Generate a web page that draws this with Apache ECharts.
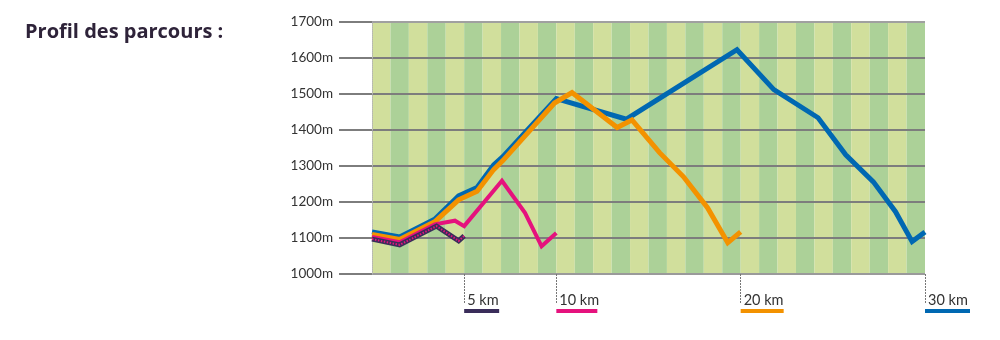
<!DOCTYPE html>
<html>
<head>
<meta charset="utf-8">
<script src="https://cdn.jsdelivr.net/npm/echarts@6/dist/echarts.min.js"></script>
<style>
  html, body { margin: 0; padding: 0; background: #ffffff; }
  #chart { width: 1000px; height: 340px; }
</style>
</head>
<body>
<div id="chart"></div>
<script>
// Elevation profiles: [distance in km, altitude in m]
const route30 = [[0,1117],[1.5,1103],[3.4,1152],[4.7,1217],[5.7,1240],[6.6,1303],[7.1,1326],[10.0,1487],[13.8,1430],[19.8,1623],[21.8,1512],[24.2,1434],[25.7,1331],[27.2,1256],[28.4,1173],[29.3,1090],[30,1117]];
const route20 = [[0,1110],[1.5,1096],[3.4,1145],[4.7,1206],[5.7,1230],[6.6,1290],[7.1,1315],[9.9,1475],[10.85,1504],[13.3,1407],[14.1,1428],[15.6,1337],[16.9,1270],[18.2,1184],[19.3,1087],[20,1117]];
const route10 = [[0,1103],[1.5,1088],[3.4,1138],[4.5,1148],[5.0,1133],[7.05,1259],[8.3,1170],[9.2,1077],[10,1114]];
const route5  = [[0,1097],[1.5,1081],[3.5,1133],[4.7,1092],[5,1106]];

// Route lengths marked under the profile
const routeEnds = [5, 10, 20, 30];
const distanceRange = { min: 0, max: 30, step: 1 };
const altitudeTicks = { min: 1000, max: 1700, step: 100 };

const colors = { r30: '#0068b2', r20: '#f39200', r10: '#e5127d', r5: '#3a2d5a' };

const chart = echarts.init(document.getElementById('chart'), null, { renderer: 'canvas' });

function routeLine(name, data, color, width, extra) {
  return Object.assign({
    name: name,
    type: 'line',
    xAxisIndex: 0,
    yAxisIndex: 0,
    data: data,
    showSymbol: false,
    symbol: 'none',
    clip: false,
    silent: true,
    z: 5,
    lineStyle: { color: color, width: width, join: 'miter', cap: 'butt' }
  }, extra || {});
}

chart.setOption({
  animation: false,
  title: {
    text: 'Profil des parcours :',
    left: 25,
    top: 22,
    padding: 0,
    textStyle: { fontFamily: 'Open Sans', fontWeight: 'bold', fontSize: 20, color: '#2e2339' }
  },
  grid: { left: 372, right: 75, top: 22, bottom: 66 },
  xAxis: [{
    // route-length markers below the profile
    type: 'value',
    min: distanceRange.min,
    max: distanceRange.max,
    interval: distanceRange.step,
    z: 3,
    axisLine: { show: false },
    splitLine: { show: false },
    splitArea: { show: false },
    axisTick: {
      show: true,
      customValues: routeEnds,
      inside: false,
      length: 29,
      lineStyle: { color: '#777777', width: 1, type: [2, 1] }
    },
    axisLabel: {
      show: true,
      customValues: routeEnds,
      margin: 17,
      align: 'left',
      formatter: function (v) { return '{t|' + v + ' km}\n{b' + v + '|}'; },
      rich: {
        t: { fontFamily: 'Lato', fontSize: 14.5, color: '#333333', lineHeight: 18, padding: [0, 0, 0, 3] },
        b5:  { backgroundColor: colors.r5,  width: 35, height: 4, lineHeight: 4 },
        b10: { backgroundColor: colors.r10, width: 41, height: 4, lineHeight: 4 },
        b20: { backgroundColor: colors.r20, width: 43, height: 4, lineHeight: 4 },
        b30: { backgroundColor: colors.r30, width: 45, height: 4, lineHeight: 4 }
      }
    }
  }, {
    // one-kilometre stripes behind the profile
    type: 'value',
    position: 'bottom',
    min: distanceRange.min,
    max: distanceRange.max,
    interval: distanceRange.step,
    z: 0,
    axisLine: { show: false },
    axisTick: { show: false },
    axisLabel: { show: false },
    splitLine: { show: false },
    splitArea: { show: true, areaStyle: { color: ['#d1df9c', '#acd198'] } }
  }],
  yAxis: [{
    type: 'value',
    min: altitudeTicks.min,
    max: altitudeTicks.max,
    interval: altitudeTicks.step,
    z: 2,
    axisLine: { show: false },
    axisTick: { show: true, inside: false, length: 33, lineStyle: { color: '#7d7d7d', width: 2 } },
    axisLabel: {
      margin: 39,
      fontFamily: 'Lato',
      fontSize: 13.5,
      color: '#333333',
      formatter: function (v) { return String(v) + 'm'; }
    },
    splitLine: {
      show: true,
      lineStyle: {
        color: ['#9a9a9a', '#7d7d7d', '#7d7d7d', '#7d7d7d', '#7d7d7d', '#7d7d7d', '#7d7d7d', '#a0a0a0'],
        width: 2
      }
    }
  }, {
    type: 'value',
    position: 'right',
    min: altitudeTicks.min,
    max: altitudeTicks.max,
    interval: altitudeTicks.step,
    z: 2,
    axisLine: { show: true, lineStyle: { color: '#b5b5b5', width: 1, type: 'dotted' } },
    axisTick: { show: false },
    axisLabel: { show: false },
    splitLine: { show: false }
  }],
  series: [
    routeLine('30 km', route30, colors.r30, 5),
    routeLine('20 km', route20, colors.r20, 5),
    routeLine('10 km', route10, colors.r10, 4),
    routeLine('5 km', route5, colors.r5, 5),
    routeLine('5 km', route5, colors.r10, 2, {
      lineStyle: { color: colors.r10, width: 2, type: [1.5, 1.5], join: 'miter' }
    })
  ]
});
</script>
</body>
</html>
